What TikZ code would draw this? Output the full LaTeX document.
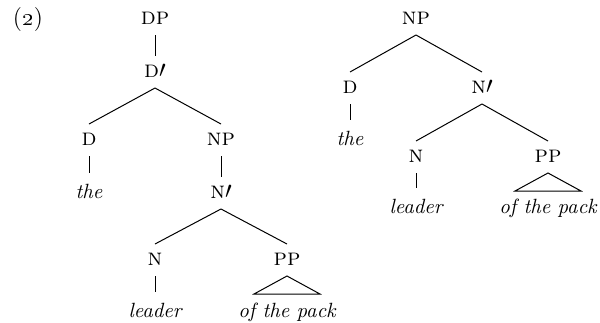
\documentclass[tikz,border=0pt]{standalone}

\tikzset{
  cat/.style={font=\fontsize{12}{14}\selectfont\scshape, inner sep=0pt, text height=5pt, text depth=0pt, outer ysep=5.5pt},
  word/.style={font=\fontsize{10.3}{12}\selectfont\itshape, inner sep=0pt, text height=7pt, text depth=2pt, outer ysep=5.5pt},
  branch/.style={line width=.5pt},
}

\begin{document}
\begin{tikzpicture}[x=.5pt, y=-.5pt, font=\normalsize]
\useasboundingbox (0,0) rectangle (600,322);

\node[font=\fontsize{12}{14}\selectfont] (ex) at (28,20) {(\oldstylenums{2})};

% DP tree
\node[cat]  (dp)    at (155,19)  {dp};
\node[cat]  (dbar)  at (155,72)  {d$\prime$};
\node[cat]  (d)     at (89,140)  {d};
\node[cat]  (np)    at (221,140) {np};
\node[word] (the)   at (89,193)  {the};
\node[cat]  (nbar)  at (221,193) {n$\prime$};
\node[cat]  (n)     at (155,260) {n};
\node[cat]  (pp)    at (287,260) {pp};
\node[word] (leader) at (155,312) {leader};
\node[word] (pack)  at (287,312) {of the pack};

\draw[branch] (dp.south) -- (dbar.north);
\draw[branch] (dbar.south) -- (d.north);
\draw[branch] (dbar.south) -- (np.north);
\draw[branch] (d.south) -- (the.north);
\draw[branch] (np.south) -- (nbar.north);
\draw[branch] (nbar.south) -- (n.north);
\draw[branch] (nbar.south) -- (pp.north);
\draw[branch] (n.south) -- (leader.north);
\draw[branch] (pp.south) -- ++(-33,18) -- ++(66,0) -- cycle;

% NP tree
\node[cat]  (rnp)    at (416,19)  {np};
\node[cat]  (rd)     at (350,88)  {d};
\node[cat]  (rnbar)  at (482,88)  {n$\prime$};
\node[word] (rthe)   at (350,140) {the};
\node[cat]  (rn)     at (416,157) {n};
\node[cat]  (rpp)    at (548,157) {pp};
\node[word] (rleader) at (416,208) {leader};
\node[word] (rpack)  at (548,208) {of the pack};

\draw[branch] (rnp.south) -- (rd.north);
\draw[branch] (rnp.south) -- (rnbar.north);
\draw[branch] (rd.south) -- (rthe.north);
\draw[branch] (rnbar.south) -- (rn.north);
\draw[branch] (rnbar.south) -- (rpp.north);
\draw[branch] (rn.south) -- (rleader.north);
\draw[branch] (rpp.south) -- ++(-33,18) -- ++(66,0) -- cycle;
\end{tikzpicture}
\end{document}
